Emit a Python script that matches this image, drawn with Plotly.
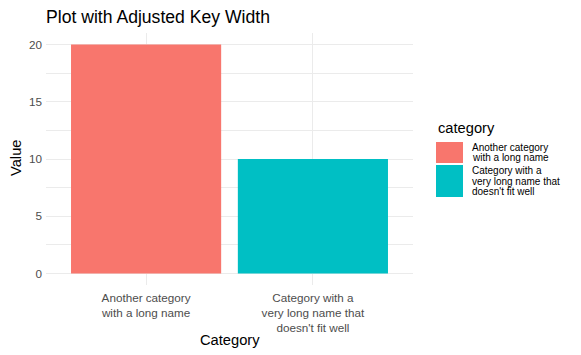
import plotly.graph_objects as go

categories = ["Another category with a long name",
              "Category with a very long name that doesn't fit well"]
values = [20, 10]
wrapped = ["Another category<br>with a long name",
           "Category with a<br>very long name that<br>doesn't fit well"]
colors = ["#F8766D", "#00BFC4"]

# page body has an 8px margin: lay out in page pixels, shift by OFF
OFF = 8
W, H = 581 - OFF, 355 - OFF
L, R, T, B = 46 - OFF, 168, 33 - OFF, 70
pw, ph = W - L - R, H - T - B

def px(x):
    return (x - OFF - L) / pw

def py(y):
    return (H - B - (y - OFF)) / ph

fig = go.Figure()
for c, v, col in zip(categories, values, colors):
    fig.add_trace(go.Bar(x=[c], y=[v], marker_color=col, marker_line_width=0,
                         width=0.9, showlegend=False, name=c))

font = "Liberation Sans, Arial, sans-serif"
fig.update_layout(
    width=W, height=H,
    margin=dict(l=L, r=R, t=T, b=B, autoexpand=False),
    plot_bgcolor="white", paper_bgcolor="white",
    font=dict(family=font, color="#4D4D4D"),
    title=dict(text="Plot with Adjusted Key Width", x=L / W, xanchor="left",
               y=1 - (16.5 - OFF) / H, yanchor="middle",
               font=dict(size=17.6, color="black", family=font)),
    bargap=0.1,
)
fig.update_xaxes(
    range=[-0.6, 1.6], tickvals=categories, ticktext=wrapped,
    tickfont=dict(size=11.7, color="#4D4D4D"), automargin=False,
    showgrid=True, gridcolor="#EBEBEB", gridwidth=1, zeroline=False,
    showline=False, ticks="", ticklabelstandoff=4,
)
fig.update_yaxes(
    range=[-1, 21], tickvals=[0, 5, 10, 15, 20],
    tickfont=dict(size=11.7, color="#4D4D4D"), automargin=False,
    showgrid=True, gridcolor="#EBEBEB", gridwidth=1, zeroline=False,
    showline=False, ticks="", ticklabelstandoff=3,
    minor=dict(tickvals=[2.5, 7.5, 12.5, 17.5], showgrid=True,
               gridcolor="#EBEBEB", gridwidth=0.5),
)

# axis titles
fig.add_annotation(text="Category", xref="paper", yref="paper", x=px(229.5), y=py(340),
                   xanchor="center", yanchor="middle", showarrow=False,
                   font=dict(size=14.7, color="black", family=font))
fig.add_annotation(text="Value", xref="paper", yref="paper", x=px(16), y=py(158),
                   xanchor="center", yanchor="middle", showarrow=False, textangle=-90,
                   font=dict(size=14.7, color="black", family=font))

# manual legend (ggplot style with wide keys)
fig.add_annotation(text="category", xref="paper", yref="paper", x=px(436), y=py(128),
                   xanchor="left", yanchor="middle", showarrow=False,
                   font=dict(size=14.7, color="black", family=font))
keys = [(142, 163), (165, 197)]
for (y0, y1), col, lab in zip(keys, colors, wrapped):
    fig.add_shape(type="rect", xref="paper", yref="paper",
                  x0=px(436), x1=px(463), y0=py(y1), y1=py(y0),
                  fillcolor=col, line=dict(width=0))
    lines = lab.split("<br>")
    n = len(lines)
    mid = (y0 + y1) / 2
    step = 10.5
    for i, ln in enumerate(lines):
        yc = mid + (i - (n - 1) / 2) * step
        fig.add_annotation(text=ln, xref="paper", yref="paper", x=px(470), y=py(yc),
                           xanchor="left", yanchor="middle", showarrow=False,
                           font=dict(size=10, color="black", family=font))

fig.write_html("out.html")
